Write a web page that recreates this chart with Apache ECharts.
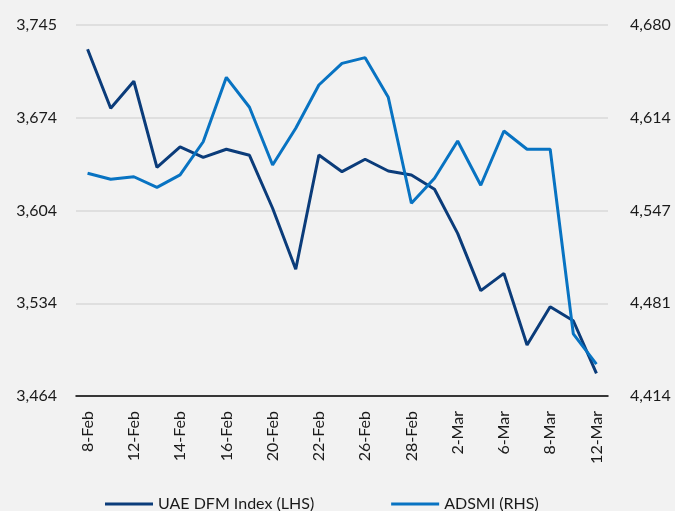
<!DOCTYPE html>
<html>
<head>
<meta charset="utf-8">
<script src="https://cdn.jsdelivr.net/npm/echarts@6/dist/echarts.min.js"></script>
<style>
  html, body { margin: 0; padding: 0; background: #f2f2f2; }
  #main { width: 675px; height: 511px; }
</style>
</head>
<body>
<div id="main"></div>
<script>
// data
var dates = ["8-Feb", "10-Feb", "12-Feb", "13-Feb", "14-Feb", "15-Feb", "16-Feb", "18-Feb",
  "20-Feb", "21-Feb", "22-Feb", "24-Feb", "26-Feb", "27-Feb", "28-Feb", "1-Mar",
  "2-Mar", "4-Mar", "6-Mar", "7-Mar", "8-Mar", "10-Mar", "12-Mar"];
var dfm = [3726.6, 3681.9, 3702.4, 3637.2, 3652.6, 3644.8, 3650.9, 3646.3,
  3606.2, 3560.0, 3646.5, 3633.9, 3643.3, 3634.4, 3631.4, 3620.6,
  3587.2, 3543.8, 3556.9, 3502.6, 3531.6, 3521.0, 3481.2];
var adsmi = [4573.7, 4569.4, 4571.2, 4563.6, 4572.5, 4596.3, 4642.5, 4621.0,
  4579.6, 4606.0, 4637.0, 4652.5, 4656.6, 4628.2, 4552.2, 4570.1,
  4596.8, 4565.1, 4604.0, 4590.9, 4590.9, 4458.5, 4436.9];
var leftTicks = [3464, 3534, 3604, 3674, 3745];
var rightTicks = [4414, 4481, 4547, 4614, 4680];

var font = "Lato, 'Open Sans', sans-serif";

function fmt(n) {
  return n.toLocaleString("en-US");
}

var myChart = echarts.init(document.getElementById("main"));
var option = {
  backgroundColor: "#f2f2f2",
  animation: false,
  grid: { left: 76, right: 67, top: 25, bottom: 115 },
  legend: {
    bottom: -6,
    left: 100,
    itemWidth: 48,
    itemHeight: 3,
    itemGap: 77,
    icon: "rect",
    textStyle: { fontFamily: font, fontSize: 16, color: "#1a1a1a" },
    data: ["UAE DFM Index (LHS)", "ADSMI (RHS)"]
  },
  xAxis: {
    type: "category",
    data: dates,
    boundaryGap: true,
    axisLine: { lineStyle: { color: "#000", width: 1.5 } },
    axisTick: { interval: 1, length: 6, lineStyle: { color: "#000", width: 1.5 } },
    axisLabel: {
      interval: 1,
      rotate: 90,
      margin: 15,
      fontFamily: font,
      fontSize: 16,
      color: "#1a1a1a"
    }
  },
  yAxis: [
    {
      type: "value",
      min: leftTicks[0],
      max: leftTicks[4],
      interval: (leftTicks[4] - leftTicks[0]) / 4,
      axisLine: { show: false },
      axisTick: { show: false },
      splitLine: { lineStyle: { color: "#d9d9d9", width: 1.5 } },
      axisLabel: {
        margin: 19,
        fontFamily: font,
        fontSize: 16,
        color: "#1a1a1a",
        formatter: function (v, i) { return fmt(leftTicks[i]); }
      }
    },
    {
      type: "value",
      min: rightTicks[0],
      max: rightTicks[4],
      interval: (rightTicks[4] - rightTicks[0]) / 4,
      axisLine: { show: false },
      axisTick: { show: false },
      splitLine: { show: false },
      axisLabel: {
        margin: 22,
        fontFamily: font,
        fontSize: 16,
        color: "#1a1a1a",
        formatter: function (v, i) { return fmt(rightTicks[i]); }
      }
    }
  ],
  series: [
    {
      name: "UAE DFM Index (LHS)",
      type: "line",
      yAxisIndex: 0,
      data: dfm,
      showSymbol: false,
      color: "#0b3c7a",
      lineStyle: { width: 3, color: "#0b3c7a" }
    },
    {
      name: "ADSMI (RHS)",
      type: "line",
      yAxisIndex: 1,
      data: adsmi,
      showSymbol: false,
      color: "#0873c2",
      lineStyle: { width: 3, color: "#0873c2" }
    }
  ]
};
myChart.setOption(option);
</script>
</body>
</html>
